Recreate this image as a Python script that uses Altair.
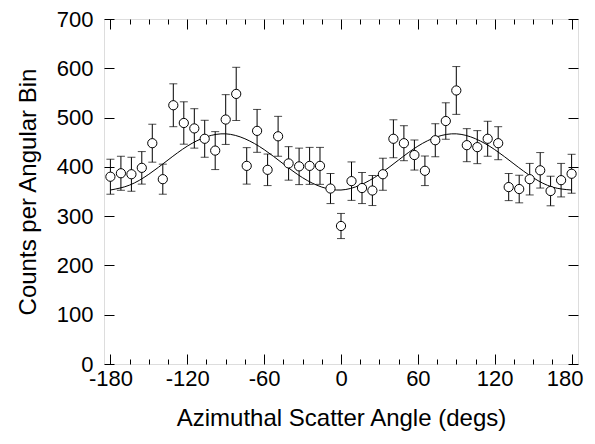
import altair as alt
import pandas as pd

# ---- data ----
angle = [-180.0, -171.8, -163.6, -155.5, -147.3, -139.1, -130.9, -122.7, -114.5,
         -106.4, -98.2, -90.0, -81.8, -73.6, -65.5, -57.3, -49.1, -40.9, -32.7,
         -24.5, -16.4, -8.2, 0.0, 8.2, 16.4, 24.5, 32.7, 40.9, 49.1, 57.3, 65.5,
         73.6, 81.8, 90.0, 98.2, 106.4, 114.5, 122.7, 130.9, 139.1, 147.3, 155.5,
         163.6, 171.8, 180.0]
counts = [380, 387, 385, 398, 448, 375, 525, 489, 478, 457, 433, 496, 548, 402,
          473, 394, 462, 407, 401, 402, 402, 356, 280, 371, 357, 352, 385, 457,
          448, 424, 392, 454, 493, 555, 444, 440, 457, 448, 359, 355, 375, 393,
          351, 373, 386]
err = [35.5, 34.5, 34.5, 33, 38.5, 30.5, 43.5, 43, 40, 37.5, 38.5, 50.5, 54, 37,
       43.5, 32, 40.5, 34, 37, 37.5, 37.5, 30.5, 25.5, 39, 31.5, 30.5, 32.5, 38.5,
       35.5, 30.5, 30, 33.5, 37, 48.5, 33.5, 33.5, 35.5, 33.5, 27.5, 28, 32, 36,
       30, 34, 39.5]

curve_angle = [-180, -165, -150, -135, -120, -105, -90, -75, -60, -45, -30, -15, 0,
               15, 30, 45, 60, 75, 90, 105, 120, 135, 150, 165, 180]
curve_counts = [353, 363, 385, 414, 442, 461, 467, 457, 435, 406, 378, 359, 353,
                363, 385, 414, 442, 461, 467, 457, 435, 406, 378, 359, 353]

x_major = [-180, -120, -60, 0, 60, 120, 180]
x_minor = [-165, -150, -135, -105, -90, -75, -45, -30, -15, 15, 30, 45, 75, 90,
           105, 135, 150, 165]
y_major = [0, 100, 200, 300, 400, 500, 600, 700]

pts = pd.DataFrame({"angle": angle, "counts": counts,
                    "lo": [c - e for c, e in zip(counts, err)],
                    "hi": [c + e for c, e in zip(counts, err)]})
curve = pd.DataFrame({"angle": curve_angle, "counts": curve_counts})

W, H = 474, 345
FONT = "Liberation Sans"
xs = alt.Scale(domain=[-185, 185], nice=False, zero=False)
ys = alt.Scale(domain=[0, 700], nice=False, zero=False)

def tick_axis(orient, offset, values, size):
    return alt.Axis(orient=orient, offset=offset, values=values, labels=False,
                    domain=False, grid=False, title=None, ticks=True,
                    tickSize=size, tickColor="black", tickWidth=1)

errbars = alt.Chart(pts).mark_errorbar(ticks={"size": 8}, color="black", thickness=1).encode(
    x=alt.X("angle:Q", scale=xs, axis=None),
    y=alt.Y("lo:Q", scale=ys, axis=None),
    y2="hi:Q",
)

line = alt.Chart(curve).mark_line(color="black", strokeWidth=1, interpolate="natural").encode(
    x=alt.X("angle:Q", scale=xs, axis=None),
    y=alt.Y("counts:Q", scale=ys, axis=None),
)

points = alt.Chart(pts).mark_point(shape="circle", filled=False, fill="white", fillOpacity=1,
                                   stroke="black", strokeWidth=1, size=85, opacity=1).encode(
    x=alt.X("angle:Q", scale=xs, axis=alt.Axis(
        orient="bottom", values=x_major, ticks=False, domain=False, grid=False,
        title="Azimuthal Scatter Angle (degs)", labelFontSize=22, titleFontSize=24,
        labelFont=FONT, titleFont=FONT, labelColor="black", titleColor="black",
        labelExpr="'' + datum.value",
        labelOffset={"condition": {"test": "datum.value === 180", "value": -7}, "value": 0},
        titleFontWeight="normal", labelPadding=4, titlePadding=17, labelFlush=False)),
    y=alt.Y("counts:Q", scale=ys, axis=alt.Axis(
        orient="left", values=y_major, ticks=False, domain=False, grid=False,
        title="Counts per Angular Bin", labelFontSize=22, titleFontSize=24,
        labelFont=FONT, titleFont=FONT, labelColor="black", titleColor="black",
        titleFontWeight="normal", labelPadding=11, titlePadding=16, labelFlush=False)),
)

def ghost(xaxis, yaxis):
    return alt.Chart(pts).mark_point(opacity=0).encode(
        x=alt.X("angle:Q", scale=xs, axis=xaxis),
        y=alt.Y("counts:Q", scale=ys, axis=yaxis),
    )

# inward ticks: axes flipped to the opposite side of the frame
g1 = ghost(tick_axis("top", -H, x_major, 10), tick_axis("right", -W, y_major, 10))
g2 = ghost(tick_axis("bottom", -H, x_major, 10), tick_axis("left", -W, y_major, 10))
g3 = ghost(tick_axis("top", -H, x_minor, 5), None)
g4 = ghost(tick_axis("bottom", -H, x_minor, 5), None)

chart = alt.layer(errbars, line, points, g1, g2, g3, g4).resolve_axis(
    x="independent", y="independent"
).properties(
    width=W, height=H,
    autosize=alt.AutoSizeParams(type="none"),
    padding={"left": 96, "top": 11, "right": 9, "bottom": 72},
).configure_view(stroke="black", strokeWidth=1).configure(background="white")

chart.save("out.html", embed_options={"renderer": "svg", "actions": False})
